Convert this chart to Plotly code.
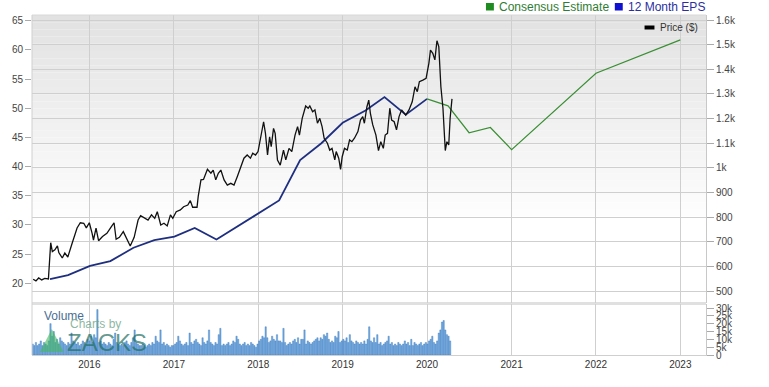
import plotly.graph_objects as go
import pandas as pd

# ---------------- data ----------------
price_dates = [
    "2015-05-03", "2015-05-15", "2015-05-27", "2015-06-09", "2015-06-22", "2015-07-08", "2015-07-18",
    "2015-07-25", "2015-08-05", "2015-08-16", "2015-08-22", "2015-09-06", "2015-09-17", "2015-09-30",
    "2015-10-19", "2015-11-09", "2015-11-23", "2015-12-08", "2015-12-19", "2016-01-01", "2016-01-13",
    "2016-01-19", "2016-01-30", "2016-02-10", "2016-02-27", "2016-03-17", "2016-04-04", "2016-04-17",
    "2016-04-26", "2016-05-10", "2016-05-27", "2016-06-11", "2016-06-26", "2016-07-13", "2016-07-30",
    "2016-08-10", "2016-08-28", "2016-09-11", "2016-09-26", "2016-10-10", "2016-10-21", "2016-11-05",
    "2016-11-19", "2016-12-03", "2016-12-17", "2016-12-27", "2017-01-11", "2017-01-29", "2017-02-12",
    "2017-03-02", "2017-03-13", "2017-03-23", "2017-04-11", "2017-04-16", "2017-04-28", "2017-05-09",
    "2017-05-26", "2017-06-10", "2017-06-20", "2017-07-01", "2017-07-12", "2017-07-23", "2017-08-06",
    "2017-08-20", "2017-09-04", "2017-09-18", "2017-10-02", "2017-10-16", "2017-10-31", "2017-11-14",
    "2017-11-28", "2017-12-08", "2017-12-20", "2017-12-31", "2018-01-10", "2018-01-24", "2018-02-01",
    "2018-02-10", "2018-02-19", "2018-02-26", "2018-03-08", "2018-03-15", "2018-03-25", "2018-04-06",
    "2018-04-20", "2018-04-30", "2018-05-14", "2018-05-26", "2018-06-09", "2018-06-20", "2018-06-28",
    "2018-07-10", "2018-07-25", "2018-08-05", "2018-08-12", "2018-08-24", "2018-09-03", "2018-09-14",
    "2018-09-24", "2018-10-04", "2018-10-13", "2018-10-27", "2018-11-06", "2018-11-16", "2018-11-28",
    "2018-12-04", "2018-12-15", "2018-12-23", "2018-12-30", "2019-01-09", "2019-01-21", "2019-01-31",
    "2019-02-10", "2019-02-21", "2019-03-08", "2019-03-19", "2019-03-29", "2019-04-05", "2019-04-16",
    "2019-04-24", "2019-05-01", "2019-05-11", "2019-05-25", "2019-06-05", "2019-06-15", "2019-06-26",
    "2019-07-04", "2019-07-14", "2019-07-24", "2019-08-01", "2019-08-12", "2019-08-22", "2019-09-02",
    "2019-09-13", "2019-10-01", "2019-10-15", "2019-10-29", "2019-11-10", "2019-11-20", "2019-11-29",
    "2019-12-14", "2019-12-28", "2020-01-09", "2020-01-16", "2020-01-26", "2020-02-04", "2020-02-13",
    "2020-02-21", "2020-03-01", "2020-03-10", "2020-03-20", "2020-03-27", "2020-04-04", "2020-04-10",
    "2020-04-18",
]
price_values = [
    548, 541, 553, 545, 551, 549, 696,
    660, 667, 683, 656, 634, 654, 638,
    695, 756, 777, 775, 756, 777, 734,
    707, 755, 704, 721, 734, 759, 777,
    710, 718, 741, 714, 683, 718, 788,
    806, 795, 788, 809, 795, 822, 768,
    775, 764, 809, 795, 822, 829, 842,
    849, 867, 840, 840, 883, 951, 953,
    994, 978, 991, 951, 978, 991, 951,
    930, 937, 930, 964, 1005, 1039, 1052,
    1039, 1059, 1052, 1066, 1113, 1187, 1140,
    1052, 1126, 1086, 1160, 1140, 1032, 1011,
    1072, 1032, 1079, 1066, 1133, 1167, 1133,
    1201, 1251, 1242, 1251, 1228, 1235, 1181,
    1201, 1167, 1120, 1100, 1072, 1079, 1032,
    1066, 1039, 994, 1045, 1079, 1072, 1113,
    1106, 1120, 1147, 1194, 1208, 1181, 1248,
    1275, 1221, 1175, 1133, 1070, 1106, 1079,
    1133, 1140, 1242, 1194, 1187, 1154, 1208,
    1235, 1214, 1235, 1268, 1329, 1309, 1350,
    1356, 1363, 1424, 1478, 1465, 1438, 1516,
    1492, 1329, 1242, 1070, 1106, 1093, 1201,
    1280,
]

eps_dates = ["2015-07-15", "2015-10-01", "2016-01-04", "2016-04-01", "2016-07-10", "2016-10-08",
             "2017-01-03", "2017-04-01", "2017-07-04", "2018-04-01", "2018-07-01", "2018-10-01",
             "2019-01-01", "2019-04-10", "2019-07-01", "2019-10-01", "2020-01-01"]
eps_values = [20.7, 21.4, 23.0, 23.8, 26.1, 27.4, 28.0, 29.5, 27.5, 34.2, 41.1, 44.0,
              47.5, 49.6, 51.9, 48.9, 51.6]

cons_dates = ["2020-01-01", "2020-04-01", "2020-07-01", "2020-10-01", "2021-01-01", "2022-01-01", "2023-01-01"]
cons_values = [51.6, 50.4, 45.8, 46.7, 42.9, 56.0, 61.7]

vol_start = "2015-05-01"
vol_2015 = [7, 6, 8, 6, 7, 9, 6, 8, 7, 6, 9, 20, 12, 15, 8, 10, 7, 11, 9, 8, 7, 6, 8, 7, 14, 9, 8, 7, 8, 6, 7, 9, 8, 7, 10]
vol_2016 = [9, 12, 8, 13, 11, 29, 8, 9, 7, 8, 7, 6, 8, 7, 6, 10, 14, 8, 7, 6, 7, 6, 8, 9, 7, 6, 8, 11, 16, 8,
            7, 6, 6, 7, 6, 5, 6, 7, 6, 8, 7, 12, 9, 8, 16, 7, 8, 6, 7, 6, 5, 6]
vol_2017 = [6, 7, 8, 12, 9, 7, 6, 7, 8, 6, 14, 8, 7, 9, 10, 8, 7, 6, 11, 8, 7, 9, 16, 8, 7, 6, 8, 7, 13, 17,
            6, 7, 6, 7, 8, 6, 7, 9, 8, 12, 10, 7, 6, 7, 8, 6, 7, 6, 8, 7, 6, 5]
vol_2018 = [7, 9, 10, 12, 11, 18, 11, 8, 9, 12, 10, 9, 13, 9, 9, 8, 17, 8, 6, 7, 8, 7, 9, 10, 8, 11, 7, 10, 10, 16,
            7, 9, 8, 7, 8, 9, 10, 11, 9, 11, 10, 13, 12, 14, 10, 8, 9, 8, 12, 11, 15, 8]
vol_2019 = [9, 10, 9, 11, 8, 13, 9, 8, 7, 9, 8, 7, 8, 7, 9, 7, 10, 18, 9, 8, 11, 8, 13, 7, 8, 6, 7, 8, 9, 12,
            7, 8, 6, 7, 6, 8, 7, 6, 7, 9, 7, 8, 6, 10, 6, 8, 7, 6, 7, 8, 6, 7]
vol_2020 = [8, 7, 9, 10, 12, 8, 7, 9, 14, 16, 21, 22, 16, 13, 12, 9]

year_ticks = ["2016", "2017", "2018", "2019", "2020", "2021", "2022", "2023"]
eps_ticks = [20, 25, 30, 35, 40, 45, 50, 55, 60, 65]
price_ticks = [500, 600, 700, 800, 900, 1000, 1100, 1200, 1300, 1400, 1500, 1600]
price_tick_text = ["500", "600", "700", "800", "900", "1k", "1.1k", "1.2k", "1.3k", "1.4k", "1.5k", "1.6k"]
vol_ticks = [0, 5000, 10000, 15000, 20000, 25000, 30000]
vol_tick_text = ["0", "5k", "10k", "15k", "20k", "25k", "30k"]

# ---------------- figure ----------------
W, H = 769, 387
ML, MR, MT, MB = 26, 63, 15, 32
PW, PH = W - ML - MR, H - MT - MB


def px(x):
    return (x - ML) / PW


def py(y):
    return (H - MB - y) / PH


vol_values = [v * 1000 for v in vol_2015 + vol_2016 + vol_2017 + vol_2018 + vol_2019 + vol_2020]
vol_dates = pd.date_range(vol_start, periods=len(vol_values), freq="7D")

FONT = "Liberation Sans, Arial, sans-serif"
fig = go.Figure()

fig.add_trace(go.Bar(x=vol_dates, y=vol_values, yaxis="y3",
                     marker=dict(color="#74ace0", line=dict(color="#3574bd", width=0.4)),
                     showlegend=False, hoverinfo="skip"))
fig.add_trace(go.Scatter(x=eps_dates, y=eps_values, yaxis="y", mode="lines",
                         line=dict(color="#1f2f80", width=1.8), showlegend=False))
fig.add_trace(go.Scatter(x=cons_dates, y=cons_values, yaxis="y", mode="lines",
                         line=dict(color="#3a8f34", width=1.2), showlegend=False))
fig.add_trace(go.Scatter(x=pd.to_datetime(price_dates), y=price_values, yaxis="y2", mode="lines",
                         line=dict(color="#111111", width=1.3), showlegend=False))

price_dom = [py(303), 1]
vol_dom = [0, py(304)]

shapes = []
# gradient background of price panel
n = 40
for i in range(n):
    y0 = 15 + i * (288 / n)
    y1 = 15 + (i + 1) * (288 / n)
    t = min(1.0, (i / n) / 0.7)
    c = int(226 + (255 - 226) * t)
    shapes.append(dict(type="rect", xref="paper", yref="paper", x0=0, x1=1, y0=py(y1), y1=py(y0),
                       fillcolor=f"rgb({c},{c},{c})", line=dict(width=0), layer="below"))
# panel separator
shapes.append(dict(type="line", xref="paper", yref="paper", x0=0, x1=1, y0=py(303.5), y1=py(303.5),
                   line=dict(color="#e0e0e0", width=3), layer="below"))
# borders
shapes.append(dict(type="line", xref="paper", yref="paper", x0=0, x1=0, y0=0, y1=1,
                   line=dict(color="#d0d0d0", width=1)))
shapes.append(dict(type="line", xref="paper", yref="paper", x0=0, x1=1, y0=1, y1=1,
                   line=dict(color="#d8d8d8", width=1)))
# legend squares
shapes.append(dict(type="rect", xref="paper", yref="paper", x0=px(484), x1=px(492), y0=py(10.5), y1=py(3),
                   fillcolor="#1e8c1e", line=dict(width=0)))
shapes.append(dict(type="rect", xref="paper", yref="paper", x0=px(614), x1=px(622), y0=py(10.5), y1=py(3),
                   fillcolor="#1010d0", line=dict(width=0)))
shapes.append(dict(type="rect", xref="paper", yref="paper", x0=px(644), x1=px(654), y0=py(29.5), y1=py(25.5),
                   fillcolor="#000000", line=dict(width=0)))
# watermark logo triangle
tri = f"M {px(34)} {py(352)} L {px(46)} {py(329)} L {px(58)} {py(352)} Z"
shapes.append(dict(type="path", xref="paper", yref="paper", path=tri,
                   fillcolor="rgba(70,185,95,0.6)", line=dict(width=0)))

annotations = [
    dict(x=px(495), y=py(7), xref="paper", yref="paper", text="Consensus Estimate", showarrow=False,
         xanchor="left", yanchor="middle", font=dict(family=FONT, size=12, color="#2f7d32")),
    dict(x=px(625), y=py(7), xref="paper", yref="paper", text="12 Month EPS", showarrow=False,
         xanchor="left", yanchor="middle", font=dict(family=FONT, size=12, color="#2a2fa0")),
    dict(x=px(658), y=py(28), xref="paper", yref="paper", text="Price ($)", showarrow=False,
         xanchor="left", yanchor="middle", font=dict(family=FONT, size=10, color="#333333")),
    dict(x=px(36), y=py(316), xref="paper", yref="paper", text="Volume", showarrow=False,
         xanchor="left", yanchor="middle", font=dict(family=FONT, size=12, color="#4a6e93")),
    dict(x=px(62), y=py(324), xref="paper", yref="paper", text="Charts by", showarrow=False,
         xanchor="left", yanchor="middle", font=dict(family=FONT, size=12, color="rgba(110,165,135,0.8)")),
    dict(x=px(59), y=py(342), xref="paper", yref="paper", text="ZACKS", showarrow=False,
         xanchor="left", yanchor="middle", font=dict(family=FONT, size=24, color="rgba(30,110,95,0.7)")),
]

tickfont = dict(family=FONT, size=10, color="#444444")

fig.update_layout(
    width=W, height=H,
    margin=dict(l=ML, r=MR, t=MT, b=MB, pad=0),
    paper_bgcolor="#ffffff", plot_bgcolor="rgba(0,0,0,0)",
    showlegend=False, hovermode=False, bargap=0.2,
    shapes=shapes, annotations=annotations,
    xaxis=dict(domain=[0, 1], anchor="y3", type="date",
               range=["2015-04-28", "2023-04-22"],
               tickvals=[f"{y}-01-01" for y in year_ticks], ticktext=year_ticks,
               showgrid=True, gridcolor="#cfcfcf", gridwidth=1,
               showline=True, linecolor="#cfcfcf", ticks="", tickfont=dict(family=FONT, size=10, color="#333333"),
               zeroline=False),
    yaxis=dict(domain=price_dom, anchor="x", side="left", range=[16.63, 65.97],
               tickvals=eps_ticks, showgrid=False, zeroline=False,
               ticks="outside", ticklen=6, tickcolor="#aaaaaa", tickfont=tickfont,
               showline=False),
    yaxis2=dict(overlaying="y", anchor="x", side="right", range=[451.3, 1620.3],
                tickvals=price_ticks, ticktext=price_tick_text,
                showgrid=True, gridcolor="#cfcfcf", gridwidth=1, zeroline=False,
                ticks="outside", ticklen=7, tickcolor="#aaaaaa", tickfont=tickfont,
                showline=True, linecolor="#c8c8c8"),
    yaxis3=dict(domain=vol_dom, anchor="x", side="right", range=[0, 32550],
                tickvals=vol_ticks, ticktext=vol_tick_text,
                showgrid=False, zeroline=False,
                ticks="outside", ticklen=7, tickcolor="#aaaaaa", tickfont=tickfont,
                showline=True, linecolor="#c8c8c8"),
)

fig.write_html("out.html", config={"displayModeBar": False},
               post_script="document.body.style.margin='0';document.body.style.overflow='hidden';")
